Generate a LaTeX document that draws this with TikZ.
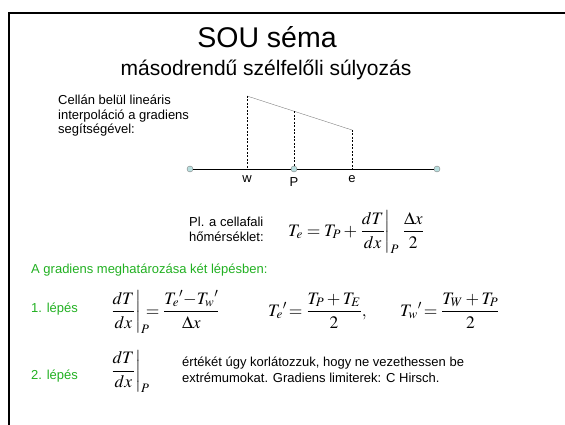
\documentclass[tikz,border=0pt]{standalone}
\usepackage{amsmath}
\usepackage{mathptmx}
\usepackage[no-math]{fontspec}
\setmainfont{Liberation Sans}
\usepackage{xcolor}
\usetikzlibrary{positioning}
\definecolor{StepGreen}{rgb}{0.13, 0.69, 0.13}
\definecolor{cellcyan}{rgb}{0.72, 0.87, 0.87}

\begin{document}
\begin{tikzpicture}[x=1pt, y=-1pt,
    txt/.style={font=\fontsize{13}{15.5}\selectfont, inner sep=0pt, align=left},
    lep/.style={txt, text=StepGreen},
    eq/.style={font=\fontsize{17.5}{21}\selectfont, inner sep=0pt, anchor=base west},
    cell/.style={circle, draw=gray, fill=cellcyan, inner sep=0pt, minimum size=6pt}]
    \useasboundingbox (0,0) rectangle (565,425);
    % Frame
    \draw [line width=2.2pt] (565,13) -- (9.3,13) -- (9.3,425);
    % Title
    \node [font=\fontsize{28.5}{34}\selectfont, anchor=base] (title) at (267,48) {SOU séma};
    \node [font=\fontsize{21}{25}\selectfont, anchor=base] (subtitle) at (266,76) {másodrendű szélfelőli súlyozás};
    % Interpolation inside the cell
    \node [txt, font=\fontsize{13}{14.5}\selectfont, anchor=north west] (interp) at (58,95) {Cellán belül lineáris\\interpoláció a gradiens\\segítségével:};
    \node [cell] (W) at (190,169) {};
    \node [cell] (P) at (294,169) {};
    \node [cell] (E) at (437,169) {};
    \draw (W) -- (P) -- (E);
    \coordinate (w) at (247,169);
    \coordinate (e) at (352,169);
    \coordinate (wtop) at (247,96);
    \coordinate (Ptop) at (294,111.3);
    \coordinate (etop) at (352,130);
    \draw [gray] (wtop) -- (etop);
    \draw [dash pattern=on 2pt off 1.5pt] (wtop) -- (w) (Ptop) -- (P) (etop) -- (e);
    \node [txt, below=6.5pt of w] (wlab) {w};
    \node [txt, below=5pt of P] (Plab) {P};
    \node [txt, below=6.5pt of e] (elab) {e};
    % Face temperature
    \node [txt, anchor=north west] (face) at (189,216.5) {Pl. a cellafali\\hőmérséklet:};
    \node [eq] (Te) at (288,236) {$T_e=T_P+\left.\dfrac{dT}{dx}\right|_P\,\dfrac{\Delta x}{2}$};
    % Gradient in two steps
    \node [lep, anchor=base west] (grad) at (31,273) {A gradiens meghatározása két lépésben:};
    \node [lep, anchor=base west] (step1) at (31,312) {1. lépés};
    \node [eq] (g1) at (110,316) {$\left.\dfrac{dT}{dx}\right|_P\mkern-8mu=\dfrac{T_e{}'{-}T_w{}'}{\Delta x}$};
    \node [eq] (Tep) at (268,316) {$T_e{}'\mkern-2mu=\dfrac{T_P+T_E}{2},$};
    \node [eq] (Twp) at (400,316) {$T_w{}'\mkern-2mu=\dfrac{T_W+T_P}{2}$};
    \node [lep, anchor=base west] (step2) at (31,379) {2. lépés};
    \node [eq] (g2) at (110,375.5) {$\left.\dfrac{dT}{dx}\right|_P$};
    \node [txt, font=\fontsize{13}{16.7}\selectfont, anchor=north west] (limit) at (182,356.4) {értékét úgy korlátozzuk, hogy ne vezethessen be\\extrémumokat. Gradiens limiterek: C Hirsch.};
\end{tikzpicture}
\end{document}
